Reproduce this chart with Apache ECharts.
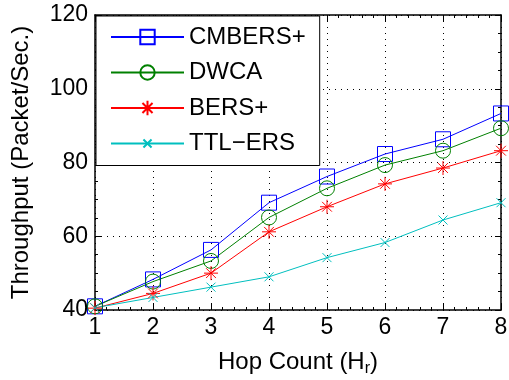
<!DOCTYPE html>
<html><head><meta charset="utf-8">
<script src="https://cdn.jsdelivr.net/npm/echarts@6/dist/echarts.min.js"></script>
<style>html,body{margin:0;padding:0;background:#fff}#c{width:509px;height:380px}</style>
</head><body><div id="c"></div>
<script>
var hops = [1, 2, 3, 4, 5, 6, 7, 8];
var cmbers = [41, 48.3, 56.3, 69.1, 76.2, 82.3, 86.3, 93.3];
var dwca = [41, 47.7, 53.3, 65.1, 73, 79.3, 83.2, 89.3];
var bers = [40.5, 44.5, 50, 61.2, 68, 74.2, 78.5, 83.2];
var ttl = [40.6, 43.4, 46.2, 49, 54.2, 58.3, 64.4, 69.1];
var yTicks = [40, 60, 80, 100, 120];

function pairs(v){ return hops.map(function(h,i){ return [h, v[i]]; }); }
var F = 'Liberation Sans, Arial, sans-serif';
var chart = echarts.init(document.getElementById('c'));
function mk(name, data, color, symbol, size){
  return {
    name: name, type: 'line', data: pairs(data), symbol: symbol, symbolSize: size,
    lineStyle: {color: color, width: 1}, itemStyle: {color: 'transparent', borderColor: color, borderWidth: 1},
    emphasis: {disabled: true}, z: 3
  };
}
var axisCommon = {
  axisLine: {show: true, lineStyle: {color: '#000', width: 1.5}},
  axisTick: {show: true, inside: true, length: 6, lineStyle: {color: '#000'}},
  minorTick: {show: true, splitNumber: 5, length: 3, lineStyle: {color: '#000'}}
};
chart.setOption({
  animation: false,
  textStyle: {fontFamily: F},
  grid: {left: 95, right: 8, top: 15, bottom: 70, outerBoundsMode: 'none', containLabel: false},
  legend: {
    left: 96, top: 16, orient: 'vertical', backgroundColor: '#fff',
    borderColor: '#000', borderWidth: 1, padding: [9, 14, 10, 14], itemGap: 11.5,
    itemWidth: 73, itemHeight: 18,
    textStyle: {fontSize: 24, color: '#000', fontFamily: F},
    data: ['CMBERS+', 'DWCA', 'BERS+', 'TTL\u2212ERS']
  },
  xAxis: [
    Object.assign({}, axisCommon, {
      type: 'value', min: 1, max: 8, interval: 1,
      name: '{a|Hop Count (H}{s|r}{a|)}', nameLocation: 'middle', nameGap: 37,
      nameTextStyle: {rich: {a: {fontSize: 24, color: '#000', fontFamily: F}, s: {fontSize: 16, color: '#000', fontFamily: F, padding: [14, 0, 0, 0]}}},
      axisLabel: {fontSize: 23, color: '#000', margin: 6},
      splitLine: {show: true, lineStyle: {color: '#000', type: [1, 5], width: 1}}
    }),
    Object.assign({}, axisCommon, {
      type: 'value', min: 1, max: 8, interval: 1, position: 'top',
      axisLabel: {show: false}, splitLine: {show: false}
    })
  ],
  yAxis: [
    Object.assign({}, axisCommon, {
      type: 'value', min: yTicks[0], max: yTicks[yTicks.length-1], interval: 20,
      minorTick: {show: true, splitNumber: 4, length: 3, lineStyle: {color: '#000'}},
      name: 'Throughput (Packet/Sec.)', nameLocation: 'middle', nameGap: 62,
      nameTextStyle: {fontSize: 24, color: '#000', fontFamily: F},
      axisLabel: {fontSize: 23, color: '#000', margin: 7},
      splitLine: {show: true, lineStyle: {color: '#000', type: [1, 5], width: 1}}
    }),
    Object.assign({}, axisCommon, {
      type: 'value', min: 40, max: 120, interval: 20, position: 'right',
      minorTick: {show: true, splitNumber: 4, length: 3, lineStyle: {color: '#000'}},
      axisLabel: {show: false}, splitLine: {show: false}
    })
  ],
  series: [
    mk('CMBERS+', cmbers, '#0000ff', 'rect', 15),
    mk('DWCA', dwca, '#008000', 'circle', 15),
    mk('BERS+', bers, '#ff0000', 'path://M5,0V10M0,5H10M1.5,1.5L8.5,8.5M8.5,1.5L1.5,8.5', 14),
    mk('TTL\u2212ERS', ttl, '#00bfbf', 'path://M0,0L0,0M16,16L16,16M3.5,3.5L12.5,12.5M12.5,3.5L3.5,12.5', 16)
  ]
});
</script></body></html>
